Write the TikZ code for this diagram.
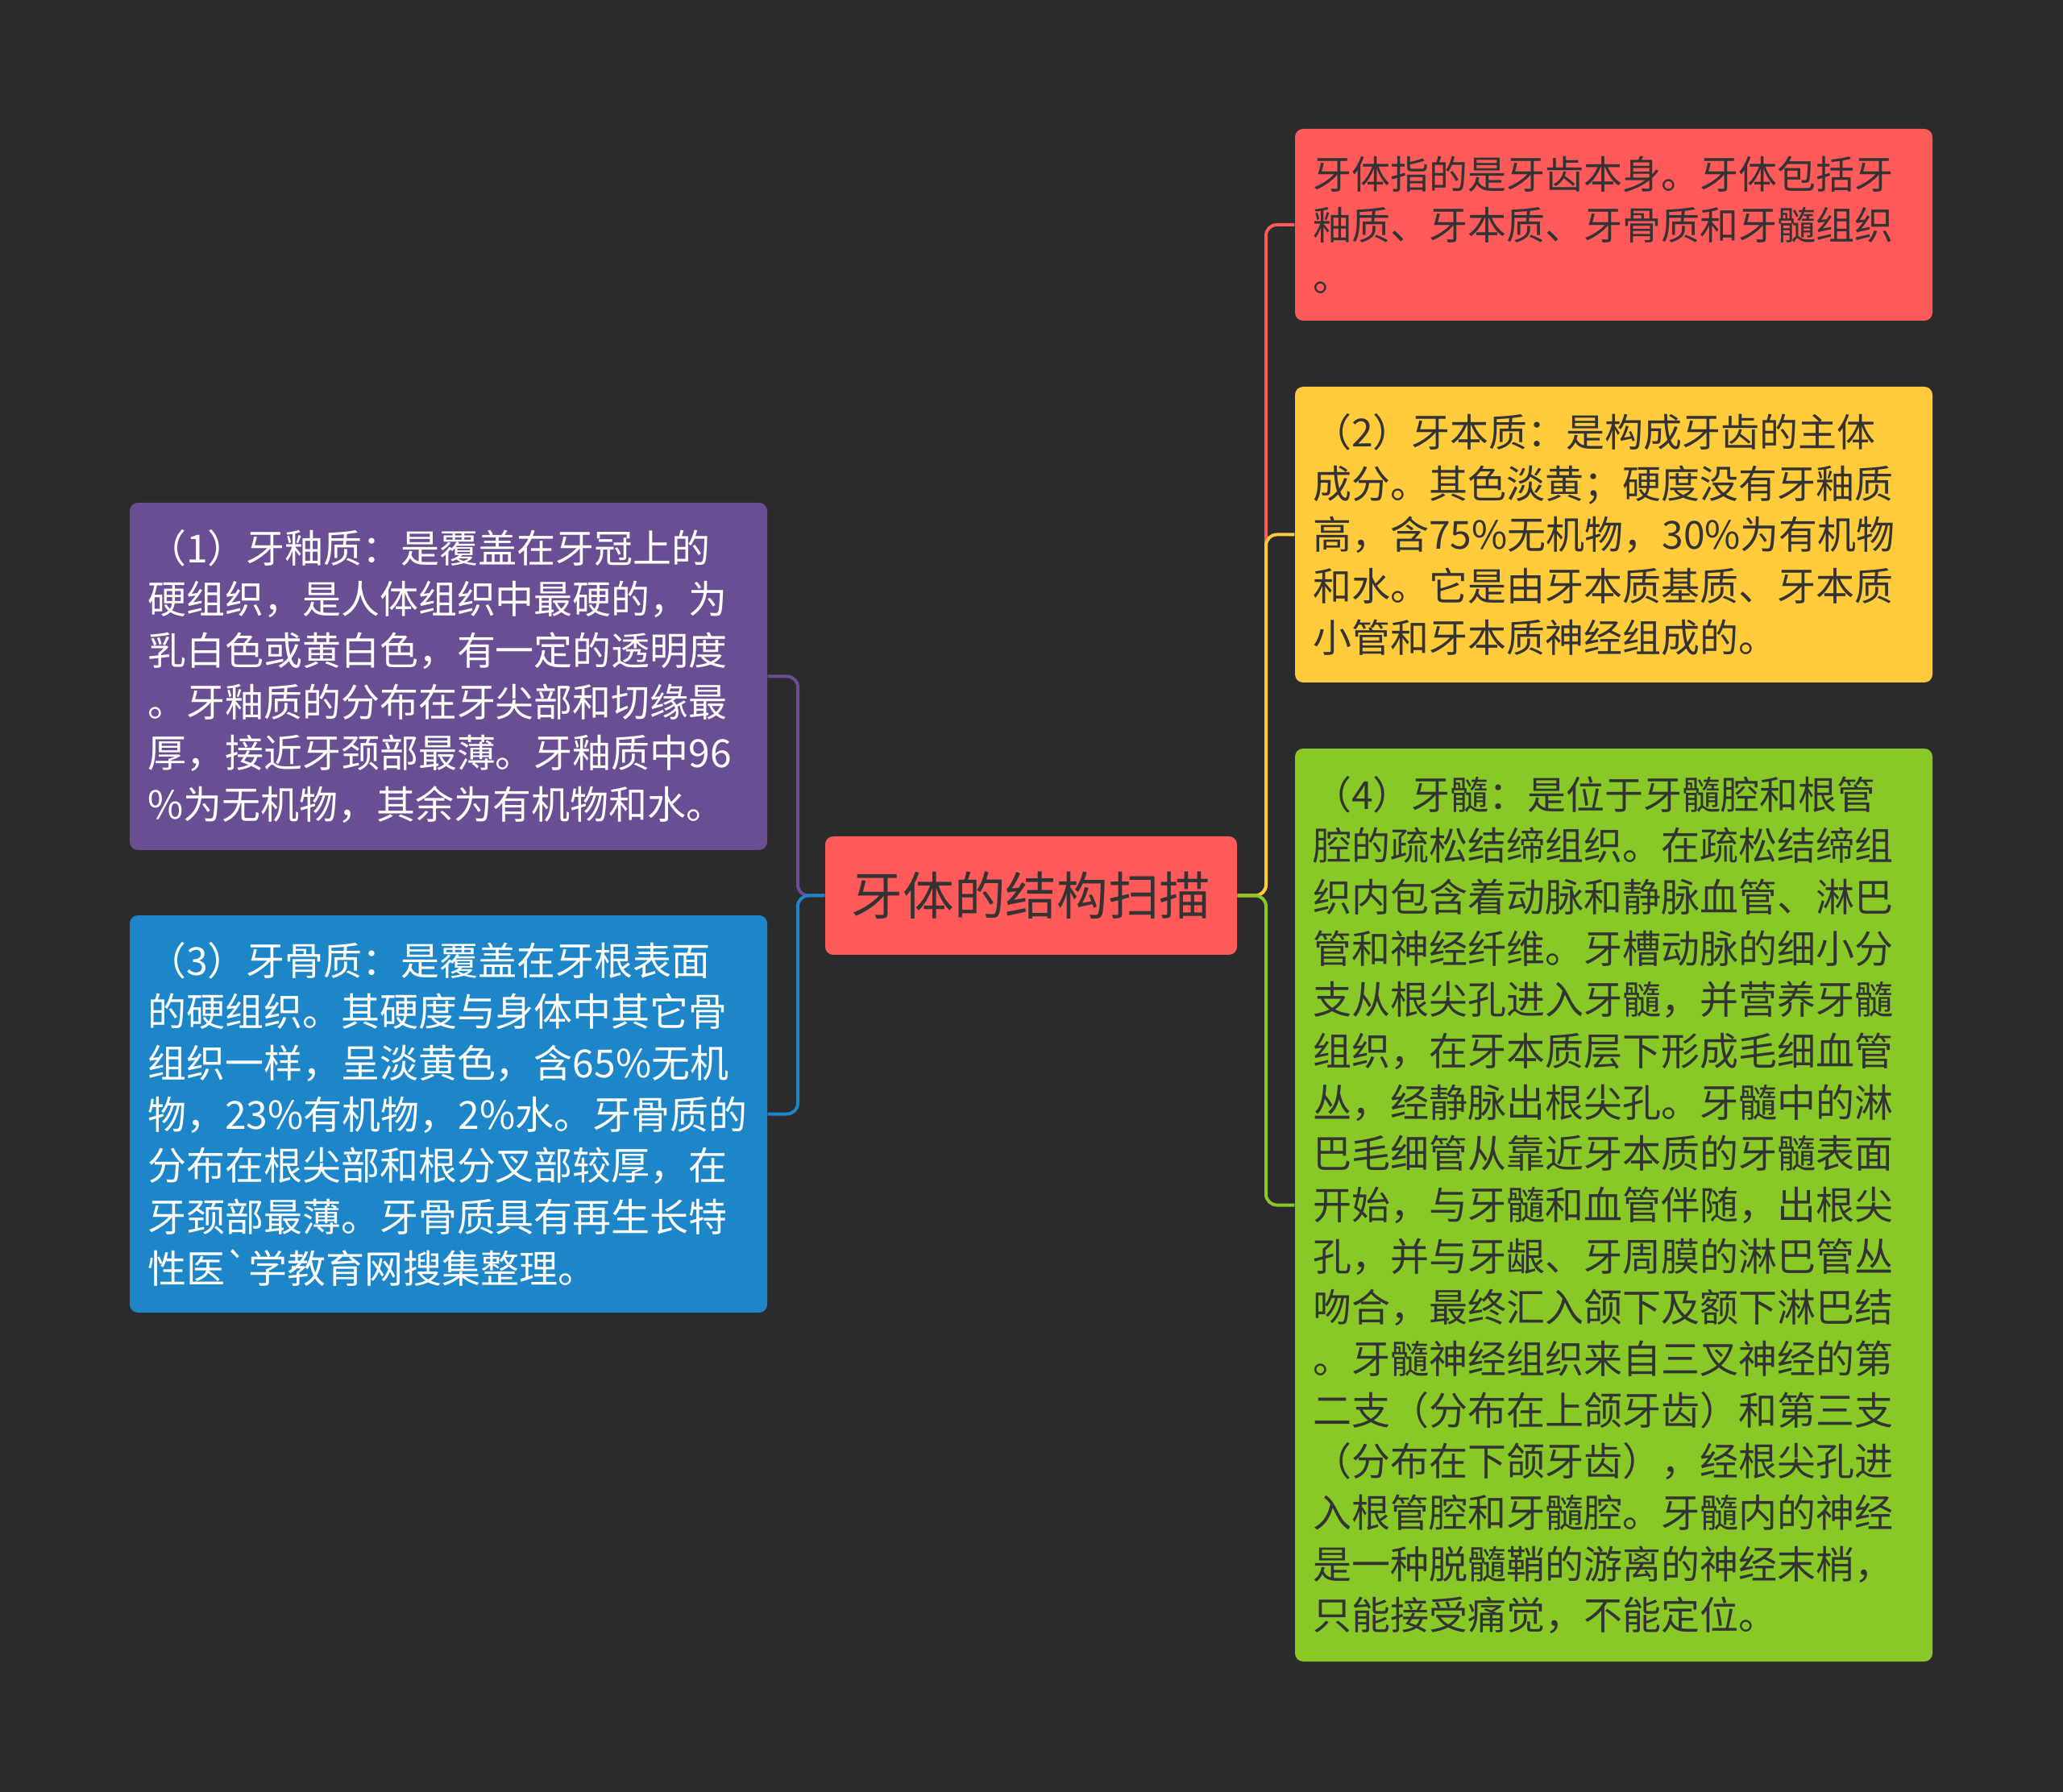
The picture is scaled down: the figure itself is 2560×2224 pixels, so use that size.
\documentclass[tikz,border=0pt]{standalone}
\usepackage{fontspec}
\newfontfamily\cjk{Noto Sans CJK SC}
\definecolor{bg}{HTML}{2B2B2B}
\definecolor{cred}{HTML}{FF5A5A}
\definecolor{cyellow}{HTML}{FFCB3B}
\definecolor{cgreen}{HTML}{88C928}
\definecolor{cpurple}{HTML}{6A4E94}
\definecolor{cblue}{HTML}{1D86C8}
\definecolor{ctext}{HTML}{333333}
\begin{document}
\begin{tikzpicture}[x=0.3pt,y=-0.3pt,
  box/.style={rounded corners=3pt, inner xsep=6.6pt, inner ysep=0pt,
    font=\cjk\fontsize{14.4pt}{19.1pt}\selectfont, align=left,
    text width=224.1pt, minimum width=237.3pt},
  darktext/.style={text=ctext},
  lighttext/.style={text=white},
  root/.style={rounded corners=3pt, fill=cred, text=ctext,
    font=\cjk\fontsize{19.1pt}{23pt}\selectfont,
    minimum width=153.3pt, minimum height=44.1pt, inner sep=0pt},
  link/.style={line width=1.2pt, rounded corners=4pt}]
\fill[bg] (0,0) rectangle (2560,2224);
\useasboundingbox (0,0) rectangle (2560,2224);

\coordinate (busR) at (1571,0);
\coordinate (busL) at (990,0);

\node[root] (c) at (1279.5,1111.5) {牙体的结构扫描};

\node[box, darktext, fill=cred, minimum height=71.4pt] (r1) at (2002.5,279)
{牙体指的是牙齿本身。牙体包括牙\\釉质、牙本质、牙骨质和牙髓组织\\。};

\node[box, darktext, fill=cyellow, minimum height=110.1pt] (r2) at (2002.5,663.5)
{（2）牙本质：是构成牙齿的主体\\成分。其色淡黄；硬度没有牙釉质\\高，含75\%无机物，30\%为有机物\\和水。它是由牙本质基质、牙本质\\小管和牙本质神经组成的。};

\node[box, darktext, fill=cgreen, minimum height=339.9pt] (r3) at (2002.5,1495.5)
{（4）牙髓：是位于牙髓腔和根管\\腔的疏松结缔组织。在疏松结缔组\\织内包含着动脉和静脉血管、淋巴\\管和神经纤维。牙槽动脉的细小分\\支从根尖孔进入牙髓，并营养牙髓\\组织，在牙本质层下形成毛细血管\\丛，经静脉出根尖孔。牙髓中的淋\\巴毛细管从靠近牙本质的牙髓表面\\开始，与牙髓和血管伴随，出根尖\\孔，并与牙龈、牙周膜的淋巴管丛\\吻合，最终汇入颌下及额下淋巴结\\。牙髓神经组织来自三叉神经的第\\二支（分布在上颌牙齿）和第三支\\（分布在下颌牙齿），经根尖孔进\\入根管腔和牙髓腔。牙髓内的神经\\是一种脱髓鞘的游离的神经末梢，\\只能接受痛觉，不能定位。};

\node[box, lighttext, fill=cpurple, minimum height=129.3pt] (l1) at (556.5,839.5)
{（1）牙釉质：是覆盖在牙冠上的\\硬组织，是人体组织中最硬的，为\\乳白色或黄白色，有一定的透明度\\。牙釉质的分布在牙尖部和切缘最\\厚，接近牙颈部最薄。牙釉质中96\\\%为无机物，其余为有机物和水。};

\node[box, lighttext, fill=cblue, minimum height=147.9pt] (l2) at (556.5,1382.5)
{（3）牙骨质：是覆盖在牙根表面\\的硬组织。其硬度与身体中其它骨\\组织一样，呈淡黄色，含65\%无机\\物，23\%有机物，2\%水。牙骨质的\\分布在根尖部和根分叉部较厚，在\\牙颈部最薄。牙骨质具有再生长特\\性医`学教育网搜集整理。};

\draw[link, cred] (c.east) -- (c.east -| busR) |- (r1.west);
\draw[link, cyellow] (c.east) -- (c.east -| busR) |- (r2.west);
\draw[link, cgreen] (c.east) -- (c.east -| busR) |- (r3.west);
\draw[link, cpurple] (c.west) -- (c.west -| busL) |- (l1.east);
\draw[link, cblue] (c.west) -- (c.west -| busL) |- (l2.east);
\end{tikzpicture}
\end{document}
